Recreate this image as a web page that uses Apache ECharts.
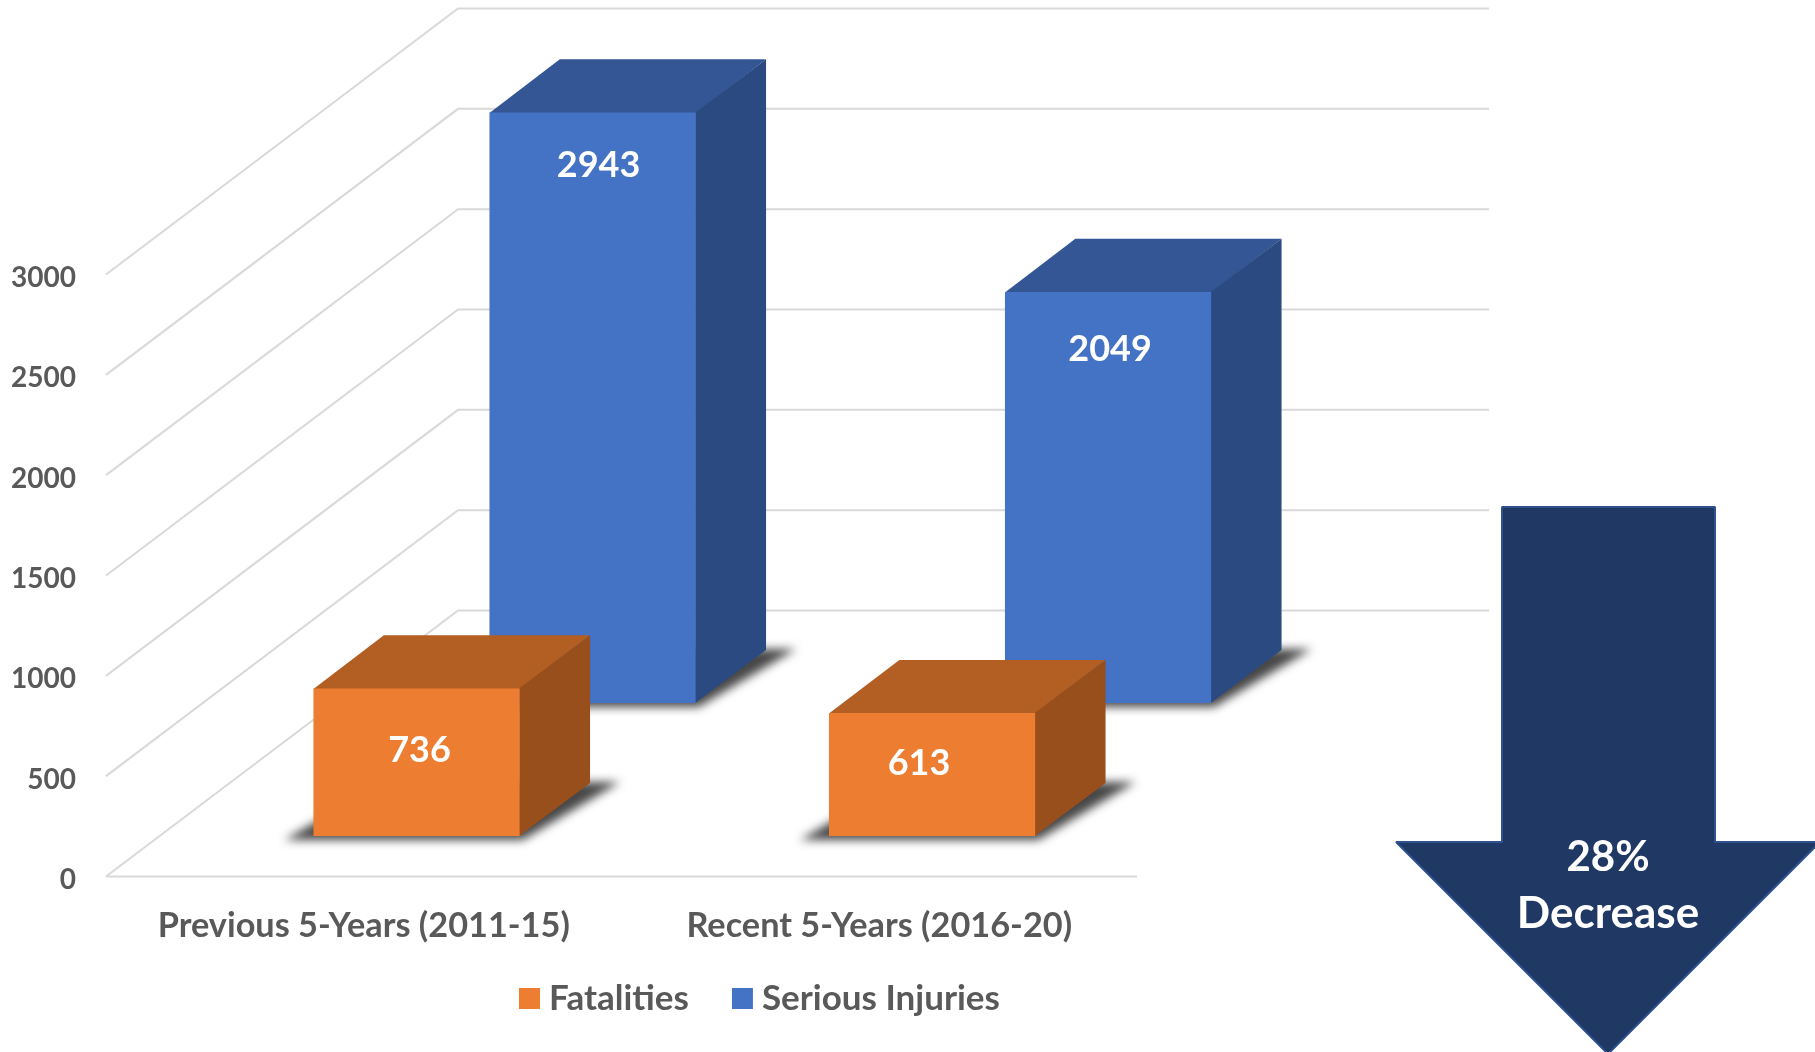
<!DOCTYPE html>
<html>
<head>
<meta charset="utf-8">
<style>html,body{margin:0;padding:0;background:#fff;overflow:hidden}#c{width:1815px;height:1052px}</style>
<script src="https://cdn.jsdelivr.net/npm/echarts@6/dist/echarts.min.js"></script>
</head>
<body>
<div id="c"></div>
<script>
const categories = ['Previous 5-Years (2011-15)', 'Recent 5-Years (2016-20)'];
const fatalities = [736, 613];
const seriousInjuries = [2943, 2049];
const yTicks = [0, 500, 1000, 1500, 2000, 2500, 3000];
const arrowLines = ['28%', 'Decrease'];

// Styling / projection constants (oblique projection of the 3D column chart)
const FONT = 'Lato, "Open Sans", sans-serif';
const DEPTH_X = 352, DEPTH_Y = -266;
const BAR_FRACTION = 0.4;
const GRID_COLOR = '#d9d9d9';
const ORANGE = {front: '#ed7d31', top: '#b35e22', side: '#984f1c', depth: [0.15, 0.35]};
const BLUE = {front: '#4472c4', top: '#345694', side: '#2b4a81', depth: [0.65, 0.85]};
const ORANGE_NUDGE = [[3, 62], [-13, 50]];
const BLUE_NUDGE = [[6, 53], [2, 57]];
const SHADOW_SHIFT = 4000;

function wallItem(params, api) {
  const cs = params.coordSys;
  const v = api.value(0);
  const y = api.coord([0, v])[1] + 0.5;
  const x0 = cs.x, x1 = cs.x + cs.width;
  const style = {stroke: GRID_COLOR, lineWidth: 2, fill: null};
  const children = [{
    type: 'polyline',
    shape: {points: [[x0, y], [x0 + DEPTH_X, y + DEPTH_Y], [x1 + DEPTH_X, y + DEPTH_Y]]},
    style: style
  }];
  if (v === 0) {
    children.push({type: 'line', shape: {x1: x0, y1: y, x2: x1, y2: y}, style: style});
  }
  return {type: 'group', children: children};
}

function barRenderer(pal, nudges) {
  return function (params, api) {
    const idx = api.value(0), val = api.value(1);
    const c = api.coord([idx, 0]);
    const topY = api.coord([idx, val])[1];
    const band = api.size([1, 0])[0];
    const w = band * BAR_FRACTION;
    const fx = c[0] - w / 2 + DEPTH_X * pal.depth[0];
    const fyB = c[1] + DEPTH_Y * pal.depth[0];
    const fyT = topY + DEPTH_Y * pal.depth[0];
    const dx = DEPTH_X * (pal.depth[1] - pal.depth[0]);
    const dy = DEPTH_Y * (pal.depth[1] - pal.depth[0]);
    const fr = fx + w;
    const n = nudges[idx];
    const s = SHADOW_SHIFT;
    return {
      type: 'group',
      children: [
        {
          type: 'polygon',
          shape: {points: [[fx - 29 - s, fyB + 4], [fr + 3 - s, fyB + 4], [fr + dx + 30 - s, fyB + dy - 1], [fx + dx - s, fyB + dy - 1]]},
          style: {fill: '#000', shadowBlur: 10, shadowColor: 'rgba(72,72,72,1)', shadowOffsetX: s}
        },
        {type: 'polygon', shape: {points: [[fx, fyT + 0.5], [fr, fyT + 0.5], [fr + dx, fyT + dy], [fx + dx, fyT + dy]]}, style: {fill: pal.top}},
        {type: 'polygon', shape: {points: [[fr - 0.5, fyT], [fr + dx, fyT + dy], [fr + dx, fyB + dy], [fr - 0.5, fyB]]}, style: {fill: pal.side}},
        {type: 'rect', shape: {x: fx, y: fyT, width: w, height: fyB - fyT}, style: {fill: pal.front}},
        {
          type: 'text',
          style: {
            text: String(val), x: fx + w / 2 + n[0], y: fyT + n[1],
            textAlign: 'center', textVerticalAlign: 'middle',
            fill: '#ffffff', font: 'bold 36px ' + FONT
          }
        }
      ]
    };
  };
}

const chart = echarts.init(document.getElementById('c'), null, {renderer: 'canvas'});
chart.setOption({
  animation: false,
  backgroundColor: '#ffffff',
  grid: {left: 106, top: 274, width: 1031, height: 602, containLabel: false},
  legend: {
    data: ['Fatalities', 'Serious Injuries'],
    left: 514, top: 976,
    icon: 'rect', itemWidth: 21, itemHeight: 21, itemGap: 43,
    selectedMode: false,
    textStyle: {color: '#595959', fontFamily: FONT, fontWeight: 'bold', fontSize: 35, padding: [0, 0, 0, 4]}
  },
  xAxis: {
    type: 'category', data: categories,
    axisLine: {show: false}, axisTick: {show: false}, splitLine: {show: false},
    axisLabel: {color: '#595959', fontFamily: FONT, fontWeight: 'bold', fontSize: 34.3, margin: 33, interval: 0, hideOverlap: false}
  },
  yAxis: {
    type: 'value', min: 0, max: 3000, interval: 500,
    axisLine: {show: false}, axisTick: {show: false}, splitLine: {show: false},
    axisLabel: {margin: 30, hideOverlap: false,
      formatter: v => '{n|' + v + '}',
      rich: {n: {color: '#595959', fontFamily: FONT, fontWeight: 'bold', fontSize: 28, padding: [8, 0, 0, 0]}}}
  },
  series: [
    {name: 'walls', type: 'custom', silent: true, renderItem: wallItem, data: yTicks.map(v => [v]), encode: {y: 0}, z: 1},
    {name: 'Serious Injuries', type: 'custom', silent: true, renderItem: barRenderer(BLUE, BLUE_NUDGE),
      itemStyle: {color: BLUE.front}, data: seriousInjuries.map((v, i) => [i, v]), encode: {x: 0, y: 1}, z: 2},
    {name: 'Fatalities', type: 'custom', silent: true, renderItem: barRenderer(ORANGE, ORANGE_NUDGE),
      itemStyle: {color: ORANGE.front}, data: fatalities.map((v, i) => [i, v]), encode: {x: 0, y: 1}, z: 3}
  ],
  graphic: [
    {
      type: 'polygon', z: 10, silent: true,
      shape: {points: [[1502, 507], [1715, 507], [1715, 842], [1820, 842], [1608, 1054], [1396, 842], [1502, 842]]},
      style: {fill: '#1f3864', stroke: '#2f528f', lineWidth: 2, lineJoin: 'bevel'}
    },
    {type: 'text', z: 11, silent: true, style: {text: arrowLines[0], x: 1608, y: 857, textAlign: 'center', textVerticalAlign: 'middle', fill: '#fff', font: 'bold 42px ' + FONT}},
    {type: 'text', z: 11, silent: true, style: {text: arrowLines[1], x: 1608, y: 914, textAlign: 'center', textVerticalAlign: 'middle', fill: '#fff', font: 'bold 44px ' + FONT}}
  ]
});
</script>
</body>
</html>
